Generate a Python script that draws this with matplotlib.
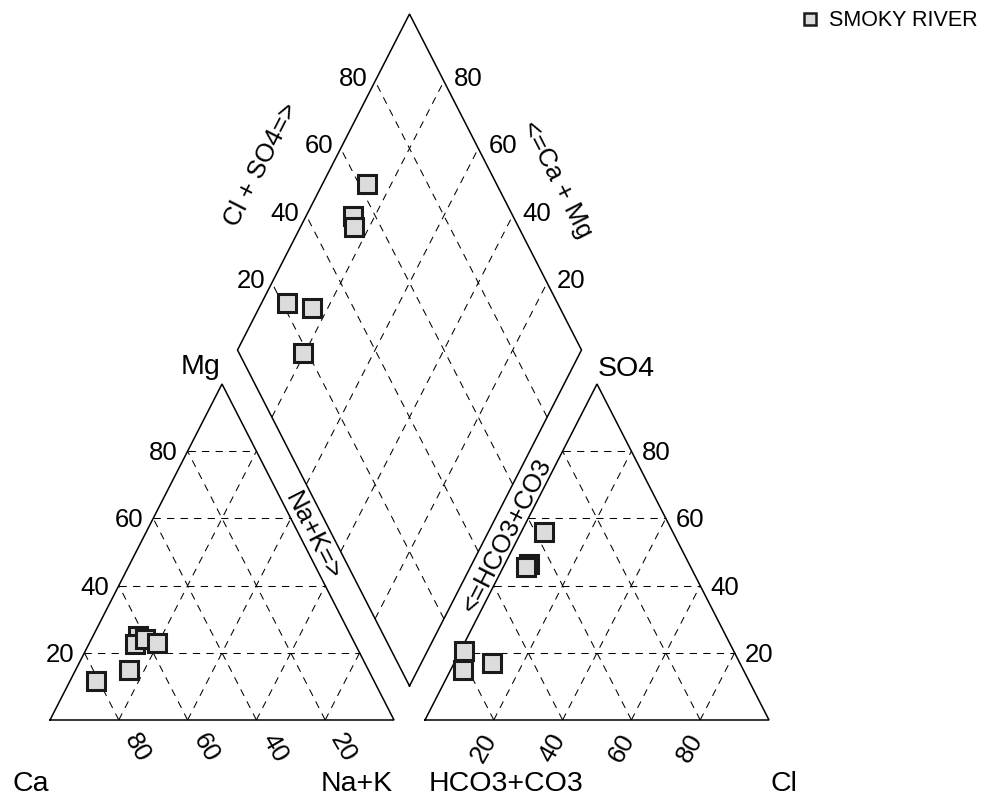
import numpy as np
import matplotlib
matplotlib.use("Agg")
import matplotlib.pyplot as plt

plt.rcParams['font.family'] = ['Liberation Sans', 'DejaVu Sans']

# sample composition (percent of meq)
ca = [62.0, 64.0, 60.5, 81.0, 57.5, 69.5]
mg = [25.0, 22.5, 24.0, 11.5, 23.0, 15.0]
nak = [13.0, 13.5, 15.5, 7.5, 19.5, 15.5]
hco3 = [37.5, 46.5, 48.0, 78.5, 81.5, 72.0]
so4 = [56.0, 46.5, 45.5, 20.5, 15.0, 17.0]
cl = [6.5, 7.0, 6.5, 1.0, 3.5, 11.0]
series_name = "SMOKY RIVER"
grid_vals = [20, 40, 60, 80]

# layout (pixels)
BASE_Y = 721
W = 344
H = 336
LX0 = 50
RX0 = 425
BX, BY = 409.5, 687


def cat_xy(c, m, n):
    c, m, n = np.asarray(c), np.asarray(m), np.asarray(n)
    return LX0 + W * (n + m / 2) / 100, BASE_Y - H * m / 100


def an_xy(h, s, c):
    h, s, c = np.asarray(h), np.asarray(s), np.asarray(c)
    return RX0 + W * (c + s / 2) / 100, BASE_Y - H * s / 100


def dia_xy(cm, sc):
    cm, sc = np.asarray(cm), np.asarray(sc)
    return BX + (W / 2) * (sc - cm) / 100, BY - H * (sc + cm) / 100


fig = plt.figure(figsize=(9.93, 8.03), dpi=100)
ax = fig.add_axes([0, 0, 1, 1])
ax.set_xlim(0, 993)
ax.set_ylim(803, 0)
ax.axis('off')

edge = dict(color='black', lw=1.1, solid_joinstyle='miter')
dash = dict(color='black', lw=0.75, dashes=(7, 6))

# outlines
x, y = cat_xy([100, 0, 0, 100], [0, 0, 100, 0], [0, 100, 0, 0])
ax.plot(x, y, **edge)
x, y = an_xy([100, 0, 0, 100], [0, 0, 100, 0], [0, 100, 0, 0])
ax.plot(x, y, **edge)
x, y = dia_xy([0, 100, 100, 0, 0], [0, 0, 100, 100, 0])
ax.plot(x, y, **edge)

# grids
for v in grid_vals:
    w = 100 - v
    for f in (cat_xy, an_xy):
        x, y = f([w, 0], [v, v], [0, w]); ax.plot(x, y, **dash)
        x, y = f([w, 0], [0, w], [v, v]); ax.plot(x, y, **dash)
        x, y = f([v, v], [0, w], [w, 0]); ax.plot(x, y, **dash)
    x, y = dia_xy([v, v], [0, 100]); ax.plot(x, y, **dash)
    x, y = dia_xy([0, 100], [v, v]); ax.plot(x, y, **dash)

fs_tick = 18.5
fs_corner = 20.5

# tick labels
for v in grid_vals:
    x, y = cat_xy(100 - v, v, 0)
    ax.text(x - 10, y + 1, str(v), ha='right', va='center', fontsize=fs_tick)
    x, y = an_xy(0, v, 100 - v)
    ax.text(x + 10, y + 1, str(v), ha='left', va='center', fontsize=fs_tick)
    x, y = cat_xy(v, 0, 100 - v)
    ax.text(x + 18, y + 27, str(v), ha='center', va='center', rotation=-60, fontsize=fs_tick)
    x, y = an_xy(100 - v, 0, v)
    ax.text(x - 10, y + 27, str(v), ha='center', va='center', rotation=60, fontsize=fs_tick)
    x, y = dia_xy(100, v)
    ax.text(x - 7, y - 3, str(v), ha='right', va='center', fontsize=fs_tick)
    x, y = dia_xy(v, 100)
    ax.text(x + 10, y - 3, str(v), ha='left', va='center', fontsize=fs_tick)

# corner labels
ax.text(12, 784, "Ca", ha='left', va='center', fontsize=fs_corner)
ax.text(393, 784, "Na+K", ha='right', va='center', fontsize=fs_corner)
ax.text(429, 784, "HCO3+CO3", ha='left', va='center', fontsize=fs_corner)
ax.text(770, 784, "Cl", ha='left', va='center', fontsize=fs_corner)
ax.text(220, 367, "Mg", ha='right', va='center', fontsize=fs_corner)
ax.text(598, 369, "SO4", ha='left', va='center', fontsize=fs_corner)

# diamond edge labels
ax.text(261, 165, "Cl + SO4=>", ha='center', va='center', rotation=63, fontsize=fs_tick)
ax.text(557, 180, "<=Ca + Mg", ha='center', va='center', rotation=-63, fontsize=fs_tick)
ax.text(313, 536, "Na+K=>", ha='center', va='center', rotation=-63, fontsize=fs_tick)
ax.text(507, 535, "<=HCO3+CO3", ha='center', va='center', rotation=63, fontsize=fs_tick)

# samples
mk = dict(ls='none', marker='s', ms=12.5, mfc='#dcdcdc', mec='#1a1a1a', mew=2.2)
x, y = cat_xy(ca, mg, nak)
ax.plot(x, y, **mk)
x, y = an_xy(hco3, so4, cl)
ax.plot(x, y, **mk)
cm = np.array(ca) + np.array(mg)
sc = np.array(so4) + np.array(cl)
x, y = dia_xy(cm, sc)
ax.plot(x, y, **mk)

# legend
ax.plot([810], [20], ls='none', marker='s', ms=9, mfc='#dcdcdc', mec='#1a1a1a', mew=1.8)
ax.text(829, 20, series_name, ha='left', va='center', fontsize=15.5)

fig.savefig("out.png", dpi=100)
